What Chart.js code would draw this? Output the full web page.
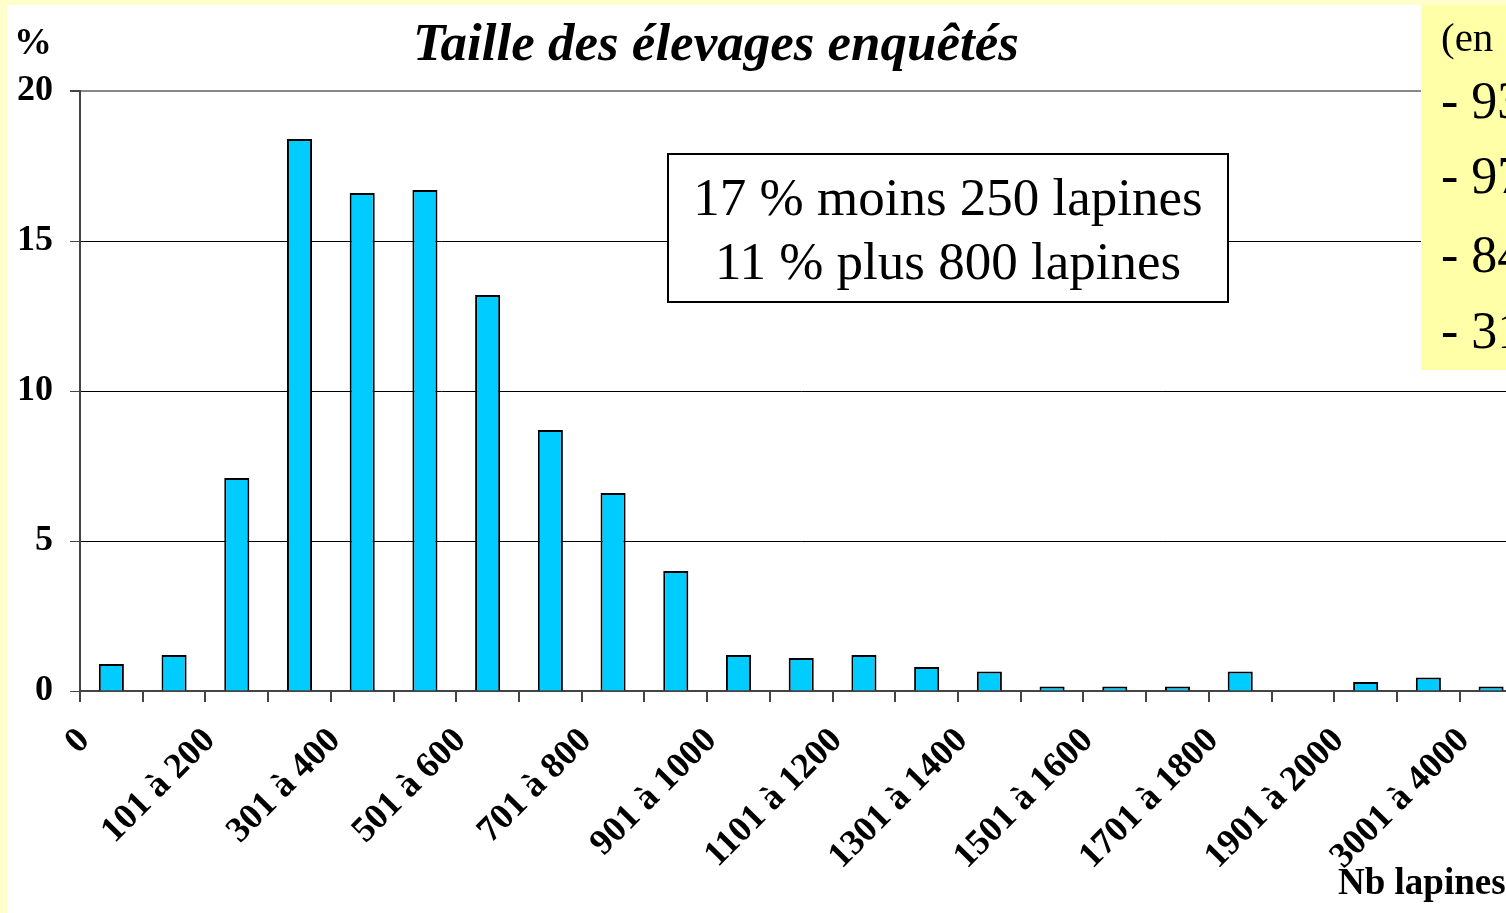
<!DOCTYPE html>
<html>
<head>
<meta charset="utf-8">
<script src="https://cdn.jsdelivr.net/npm/chart.js@4.4.0/dist/chart.umd.min.js"></script>
<style>
  html, body { margin: 0; padding: 0; overflow: hidden; width: 1506px; height: 913px; background: #ffffcc; }
  #sheet { position: absolute; left: 7px; top: 5px; width: 1520px; height: 920px; background: #fff; }
  #myChart { position: absolute; left: 0; top: 0; }
  .txt { position: absolute; font-family: 'Liberation Serif', 'DejaVu Serif', serif; color: #000; white-space: nowrap; }
  #title { left: 413px; top: 12px; font-size: 53px; font-weight: bold; font-style: italic; }
  #pct { left: 14px; top: 19px; font-size: 38px; font-weight: bold; }
  #nb { left: 1338px; top: 860px; font-size: 37px; font-weight: bold; }
  #note { left: 667px; top: 153px; width: 562px; height: 150px; border: 2px solid #000; background: #fff;
          font-size: 53px; line-height: 64px; text-align: center; padding-top: 10px; box-sizing: border-box; }
  #side { position: absolute; left: 1421px; top: 5px; width: 100px; height: 365px; background: #ffffa8; }
  #side div { position: absolute; left: 20px; font-family: 'Liberation Serif', serif; white-space: nowrap; }
</style>
</head>
<body>
<div id="sheet"></div>
<canvas id="myChart" width="1540" height="913"></canvas>
<div class="txt" id="title">Taille des élevages enquêtés</div>
<div class="txt" id="pct">%</div>
<div class="txt" id="nb">Nb lapines</div>
<div class="txt" id="note">17 % moins 250 lapines<br>11 % plus 800 lapines</div>
<div id="side">
  <div style="top:8px;font-size:41px;">(en</div>
  <div style="top:66px;font-size:52px;">- 93</div>
  <div style="top:141px;font-size:52px;">- 97</div>
  <div style="top:220px;font-size:52px;">- 84</div>
  <div style="top:296px;font-size:52px;">- 31</div>
</div>
<script>
const categories = ['0', '1 à 100', '101 à 200', '201 à 300', '301 à 400', '401 à 500', '501 à 600',
  '601 à 700', '701 à 800', '801 à 900', '901 à 1000', '1001 à 1100', '1101 à 1200', '1201 à 1300',
  '1301 à 1400', '1401 à 1500', '1501 à 1600', '1601 à 1700', '1701 à 1800', '1801 à 1900',
  '1901 à 2000', '2001 à 3000', '3001 à 4000'];
const percents = [0.9, 1.2, 7.1, 18.4, 16.6, 16.7, 13.2, 8.7, 6.6, 4.0, 1.2, 1.1, 1.2, 0.8, 0.65,
  0.15, 0.15, 0.15, 0.65, 0, 0.3, 0.45, 0.15];
const yTicks = [0, 5, 10, 15, 20];

const serif = 'Liberation Serif';
const ctx = document.getElementById('myChart');
let Taille = new Chart(ctx, {
  type: 'bar',
  data: {
    labels: categories,
    datasets: [{
      data: percents,
      backgroundColor: '#00ccff',
      borderColor: '#000',
      borderWidth: 2,
      borderSkipped: 'bottom',
      categoryPercentage: 1,
      barPercentage: 0.4,
    }]
  },
  options: {
    responsive: false,
    animation: false,
    layout: { padding: { top: 91, right: 17, left: 0, bottom: 0 } },
    plugins: { legend: { display: false }, tooltip: { enabled: false } },
    scales: {
      x: {
        afterFit: (s) => { s.height = 222; },
        border: { color: '#444', width: 2 },
        grid: { drawOnChartArea: false, color: '#444', tickLength: 11, lineWidth: 2 },
        ticks: {
          autoSkip: false,
          minRotation: 45,
          maxRotation: 45,
          labelOffset: -27,
          padding: 18,
          color: '#000',
          font: { family: serif, size: 36, weight: 'bold' },
          callback: (v, i) => (i % 2 === 0 ? categories[i] : '')
        }
      },
      y: {
        min: 0,
        max: 20,
        afterFit: (s) => { s.width = 80; },
        afterBuildTicks: (s) => { s.ticks = yTicks.map(v => ({ value: v })); },
        border: { color: '#444', width: 2 },
        grid: {
          color: (c) => (c.tick && c.tick.value === 20 ? '#888' : '#000'),
          lineWidth: (c) => (c.tick && c.tick.value === 20 ? 2 : 1),
          tickLength: 10,
          tickColor: '#444'
        },
        ticks: {
          padding: 17,
          color: '#000',
          font: { family: serif, size: 36, weight: 'bold' }
        }
      }
    }
  }
});
</script>
</body>
</html>
